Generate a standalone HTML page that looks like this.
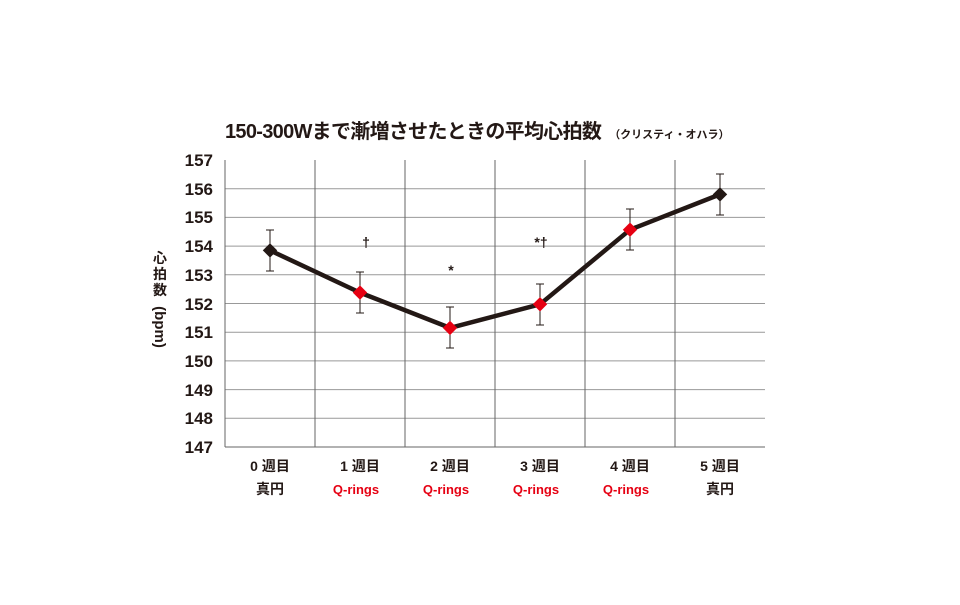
<!DOCTYPE html>
<html><head><meta charset="utf-8"><style>
body{margin:0;background:#fff;width:960px;height:600px;overflow:hidden}
text{font-family:"Liberation Sans","Noto Sans CJK JP",sans-serif;font-weight:bold}
</style></head><body>
<svg width="960" height="600" xmlns="http://www.w3.org/2000/svg">
<text x="225" y="138" font-size="20" fill="#231815" letter-spacing="-0.7">150-300Wまで漸増させたときの平均心拍数<tspan font-size="11" dx="8" letter-spacing="0">（クリスティ・オハラ）</tspan></text>
<g stroke="#999" stroke-width="1">
<line x1="225" y1="188.7" x2="765" y2="188.7"/><line x1="225" y1="217.4" x2="765" y2="217.4"/>
<line x1="225" y1="246.1" x2="765" y2="246.1"/><line x1="225" y1="274.8" x2="765" y2="274.8"/>
<line x1="225" y1="303.5" x2="765" y2="303.5"/><line x1="225" y1="332.2" x2="765" y2="332.2"/>
<line x1="225" y1="360.9" x2="765" y2="360.9"/><line x1="225" y1="389.6" x2="765" y2="389.6"/>
<line x1="225" y1="418.3" x2="765" y2="418.3"/>
</g>
<g stroke="#666" stroke-width="1">
<line x1="315" y1="160" x2="315" y2="447"/><line x1="405" y1="160" x2="405" y2="447"/>
<line x1="495" y1="160" x2="495" y2="447"/><line x1="585" y1="160" x2="585" y2="447"/>
<line x1="675" y1="160" x2="675" y2="447"/>
<line x1="225" y1="160" x2="225" y2="447"/><line x1="225" y1="447" x2="765" y2="447"/>
</g>
<g font-size="17" fill="#231815" text-anchor="end">
<text x="213" y="166">157</text><text x="213" y="195">156</text><text x="213" y="223">155</text>
<text x="213" y="252">154</text><text x="213" y="281">153</text><text x="213" y="310">152</text>
<text x="213" y="338">151</text><text x="213" y="367">150</text><text x="213" y="396">149</text>
<text x="213" y="424">148</text><text x="213" y="453">147</text>
</g>
<g font-size="14" fill="#231815" text-anchor="middle">
<text x="160" y="263">心</text><text x="160" y="279">拍</text><text x="160" y="295">数</text>
</g>
<text transform="translate(155,327) rotate(90)" font-size="15" text-anchor="middle" fill="#231815">(bpm)</text>
<g stroke="#231815" stroke-width="1">
<line x1="270" y1="230" x2="270" y2="271"/><line x1="266" y1="230" x2="274" y2="230"/><line x1="266" y1="271" x2="274" y2="271"/>
<line x1="360" y1="272" x2="360" y2="313"/><line x1="356" y1="272" x2="364" y2="272"/><line x1="356" y1="313" x2="364" y2="313"/>
<line x1="450" y1="307" x2="450" y2="348"/><line x1="446" y1="307" x2="454" y2="307"/><line x1="446" y1="348" x2="454" y2="348"/>
<line x1="540" y1="284" x2="540" y2="325"/><line x1="536" y1="284" x2="544" y2="284"/><line x1="536" y1="325" x2="544" y2="325"/>
<line x1="630" y1="209" x2="630" y2="250"/><line x1="626" y1="209" x2="634" y2="209"/><line x1="626" y1="250" x2="634" y2="250"/>
<line x1="720" y1="174" x2="720" y2="215"/><line x1="716" y1="174" x2="724" y2="174"/><line x1="716" y1="215" x2="724" y2="215"/>
</g>
<polyline points="270,250.4 360,292.6 450,327.9 540,304.3 630,229.7 720,194.4" fill="none" stroke="#231815" stroke-width="4.5" stroke-linejoin="round"/>
<g>
<rect x="-6" y="-6" width="12" height="12" transform="translate(270,250.4) rotate(45) scale(0.85)" fill="#231815"/>
<rect x="-6" y="-6" width="12" height="12" transform="translate(360,292.6) rotate(45) scale(0.85)" fill="#e60012"/>
<rect x="-6" y="-6" width="12" height="12" transform="translate(450,327.9) rotate(45) scale(0.85)" fill="#e60012"/>
<rect x="-6" y="-6" width="12" height="12" transform="translate(540,304.3) rotate(45) scale(0.85)" fill="#e60012"/>
<rect x="-6" y="-6" width="12" height="12" transform="translate(630,229.7) rotate(45) scale(0.85)" fill="#e60012"/>
<rect x="-6" y="-6" width="12" height="12" transform="translate(720,194.4) rotate(45) scale(0.85)" fill="#231815"/>
</g>
<g font-size="14" fill="#231815" text-anchor="middle" font-weight="normal">
<text x="366" y="247">†</text><text x="451" y="275">*</text><text x="541" y="247">*†</text>
</g>
<g font-size="14" text-anchor="middle">
<text x="270" y="471" fill="#231815">0 週目</text><text x="360" y="471" fill="#231815">1 週目</text>
<text x="450" y="471" fill="#231815">2 週目</text><text x="540" y="471" fill="#231815">3 週目</text>
<text x="630" y="471" fill="#231815">4 週目</text><text x="720" y="471" fill="#231815">5 週目</text>
<text x="270" y="494" fill="#231815">真円</text>
<text x="356" y="494" fill="#e60012" font-size="13">Q-rings</text>
<text x="446" y="494" fill="#e60012" font-size="13">Q-rings</text>
<text x="536" y="494" fill="#e60012" font-size="13">Q-rings</text>
<text x="626" y="494" fill="#e60012" font-size="13">Q-rings</text>
<text x="720" y="494" fill="#231815">真円</text>
</g>
</svg>
</body></html>
